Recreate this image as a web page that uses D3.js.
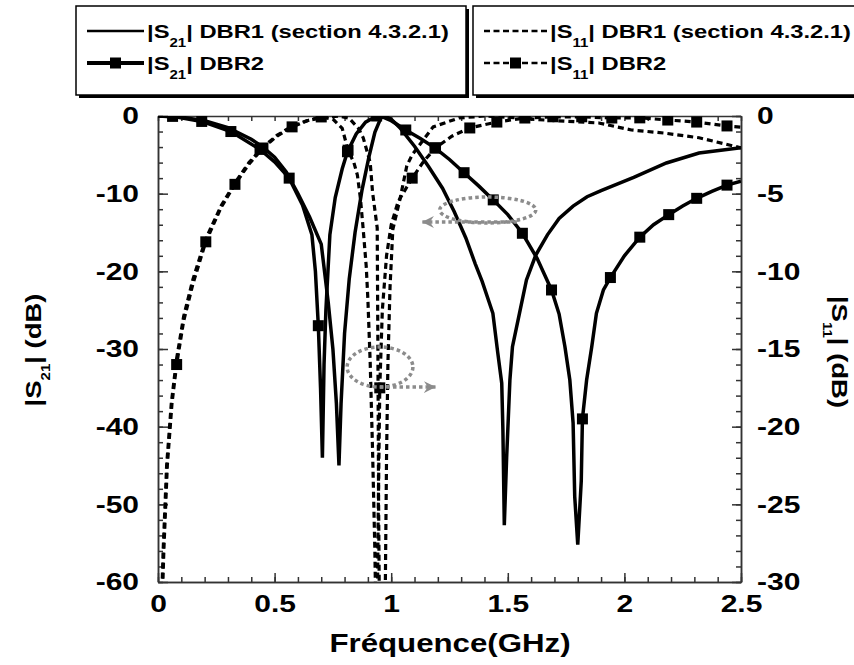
<!DOCTYPE html>
<html>
<head>
<meta charset="utf-8">
<script src="https://cdn.jsdelivr.net/npm/d3@7"></script>
<style>
  body { margin: 0; background: #fff; }
  svg text { font-family: "Liberation Sans", Arial, sans-serif; font-weight: bold; }
</style>
</head>
<body>
<div id="chart"></div>
<script>
// |S21| DBR1 (GHz, dB, left axis)
const s21Dbr1 = [
  [0, 0], [0.1, -0.15], [0.2, -0.6], [0.3, -1.5], [0.4, -3.0], [0.45, -4.0], [0.5, -5.3],
  [0.55, -7.2], [0.6, -10.0], [0.65, -13.0], [0.7, -16.5], [0.73, -24], [0.75, -30],
  [0.765, -37], [0.776, -45], [0.785, -37], [0.8, -28], [0.82, -21], [0.845, -15],
  [0.875, -9.5], [0.905, -5.2], [0.93, -2.1], [0.955, -0.3], [0.97, 0], [1.0, -0.4],
  [1.037, -1.5], [1.1, -3.9], [1.16, -6.5], [1.22, -9.3], [1.27, -12.3], [1.32, -15.7],
  [1.36, -19], [1.39, -21.3], [1.436, -25.4], [1.457, -30.5], [1.474, -34.4], [1.479, -40.4],
  [1.485, -52.7], [1.495, -44], [1.509, -34], [1.52, -29.7], [1.55, -25.4], [1.58, -21.1],
  [1.62, -17.9], [1.67, -15.3], [1.72, -13.2], [1.78, -11.6], [1.84, -10.4], [1.9, -9.6],
  [2.04, -7.9], [2.18, -6.05], [2.32, -4.76], [2.5, -4.1]
];

// |S21| DBR2 (left axis)
const s21Dbr2 = [
  [0, 0], [0.0625, -0.05], [0.1875, -0.7], [0.3125, -2.0], [0.4375, -4.3], [0.5, -5.9],
  [0.5625, -8.0], [0.62, -11.5], [0.66, -15.3], [0.675, -20], [0.6875, -27], [0.697, -35],
  [0.705, -44], [0.712, -32], [0.72, -25], [0.737, -15.3], [0.76, -10.5], [0.79, -6.8],
  [0.8125, -4.6], [0.85, -2.3], [0.89, -0.8], [0.9375, 0], [0.97, -0.2], [1.0, -0.6],
  [1.0625, -1.8], [1.125, -2.9], [1.1875, -4.1], [1.25, -5.6], [1.3125, -7.3], [1.375, -9.0],
  [1.4375, -10.8], [1.5, -12.7], [1.5625, -15.1], [1.625, -18.3], [1.6875, -22.4],
  [1.72, -25.5], [1.745, -29.7], [1.766, -34], [1.78, -39.5], [1.787, -49], [1.8, -55.2],
  [1.815, -47], [1.82, -39], [1.838, -34], [1.86, -29.7], [1.88, -25.4], [1.91, -22.4],
  [1.94, -20.8], [2.0, -18], [2.066, -15.6], [2.125, -14.0], [2.19, -12.7], [2.25, -11.6],
  [2.31, -10.6], [2.375, -9.7], [2.44, -8.9], [2.5, -8.4]
];
const s21Dbr2Markers = [
  [0.0625, -0.05], [0.1875, -0.7], [0.3125, -2.0], [0.4375, -4.3], [0.5625, -8.0],
  [0.6875, -27], [0.8125, -4.6], [0.9375, 0], [1.0625, -1.8], [1.1875, -4.1],
  [1.3125, -7.3], [1.4375, -10.8], [1.5625, -15.1], [1.6875, -22.4], [1.82, -39],
  [1.94, -20.8], [2.066, -15.6], [2.19, -12.7], [2.31, -10.6], [2.44, -8.9]
];

// |S11| DBR1 (right axis)
const s11Dbr1 = [
  [0.012, -33], [0.022, -28], [0.037, -22.5], [0.057, -18.5], [0.08, -15.6], [0.11, -12.9],
  [0.15, -10.5], [0.205, -7.9], [0.27, -5.8], [0.33, -4.3], [0.39, -3.0], [0.45, -2.0],
  [0.51, -1.25], [0.575, -0.65], [0.64, -0.3], [0.7, -0.12], [0.776, 0], [0.82, -0.15],
  [0.86, -0.8], [0.88, -1.4], [0.91, -3.0], [0.92, -4.9], [0.94, -7.2], [0.943, -15],
  [0.946, -25], [0.95, -33], [0.96, -40], [0.975, -30], [0.98, -22], [0.986, -15.9],
  [0.995, -11], [1.007, -7.3], [1.037, -5.4], [1.067, -3.2], [1.09, -2.5], [1.12, -1.9],
  [1.18, -0.7], [1.29, -0.13], [1.4, 0], [1.5, -0.08], [1.6, -0.2], [1.7, -0.3],
  [1.89, -0.45], [2.03, -0.9], [2.17, -1.1], [2.32, -1.4], [2.5, -2.05]
];

// |S11| DBR2 (right axis)
const s11Dbr2 = [
  [0.015, -33], [0.025, -28], [0.04, -22.5], [0.06, -18.5], [0.08, -16], [0.11, -13.2],
  [0.15, -10.8], [0.205, -8.1], [0.27, -5.9], [0.33, -4.4], [0.39, -3.1], [0.45, -2.06],
  [0.51, -1.3], [0.575, -0.7], [0.64, -0.3], [0.7, -0.06], [0.75, -0.2], [0.79, -0.8],
  [0.815, -2.2], [0.84, -3.0], [0.855, -3.8], [0.868, -5.3], [0.88, -7.3], [0.893, -9.7],
  [0.9, -11.8], [0.91, -15.9], [0.92, -21.5], [0.93, -28], [0.938, -36], [0.944, -26],
  [0.951, -17.5], [0.962, -12.5], [0.98, -9], [1.0, -7.0], [1.03, -5.5], [1.09, -4.0],
  [1.14, -2.9], [1.19, -2.06], [1.26, -1.3], [1.337, -0.77], [1.453, -0.39], [1.573, -0.13],
  [1.693, -0.05], [1.817, -0.05], [1.946, -0.13], [2.066, -0.12], [2.186, -0.26],
  [2.31, -0.39], [2.44, -0.64], [2.5, -0.72]
];
const s11Dbr2Markers = [
  [0.08, -16], [0.205, -8.1], [0.33, -4.4], [0.45, -2.06], [0.575, -0.7], [0.7, -0.06],
  [0.815, -2.2], [0.951, -17.5], [1.09, -4.0], [1.19, -2.06], [1.337, -0.77], [1.453, -0.39],
  [1.573, -0.13], [1.693, -0.05], [1.817, -0.05], [1.946, -0.13], [2.066, -0.12],
  [2.186, -0.26], [2.31, -0.39], [2.44, -0.64]
];

// tick labels
const xTickValues = [0, 0.5, 1, 1.5, 2, 2.5];
const xTickLabels = ["0", "0.5", "1", "1.5", "2", "2.5"];
const yLeftTicks = [0, -10, -20, -30, -40, -50, -60];
const yRightTicks = [0, -5, -10, -15, -20, -25, -30];

// legend entries: [name, subscript, rest]
const legendLeft = [["|S", "21", "| DBR1 (section 4.3.2.1)"], ["|S", "21", "| DBR2"]];
const legendRight = [["|S", "11", "| DBR1 (section 4.3.2.1)"], ["|S", "11", "| DBR2"]];

// grey dotted ellipses (centre GHz / dB, half widths) and arrows
const ellipseS21 = { f: 1.414, db: -12.1, rf: 0.206, rdb: 1.67, from: [1.539, -13.65], to: [1.106, -13.65] };
const ellipseS11 = { f: 0.952, db: -16.16, rf: 0.141, rdb: 1.29, from: [0.952, -17.45], to: [1.217, -17.45] };

const width = 854, height = 665;
const SX = 1.25; // wide bold lettering

const x = d3.scaleLinear().domain([0, 2.5]).range([158, 741]);
const yL = d3.scaleLinear().domain([-60, 0]).range([582, 116]);
const yR = d3.scaleLinear().domain([-30, 0]).range([582, 116]);

const svg = d3.select("#chart").append("svg")
  .attr("width", width)
  .attr("height", height);

const defs = svg.append("defs");
defs.append("clipPath").attr("id", "plotClip")
  .append("rect")
  .attr("x", x(0)).attr("y", yL(0))
  .attr("width", x(2.5) - x(0)).attr("height", yL(-60) - yL(0));

defs.append("marker")
  .attr("id", "arrowHead")
  .attr("viewBox", "-12 -7 14 14")
  .attr("refX", 0).attr("refY", 0)
  .attr("markerWidth", 14).attr("markerHeight", 14)
  .attr("markerUnits", "userSpaceOnUse")
  .attr("orient", "auto")
  .append("path")
  .attr("d", "M0,0 L-12,-6 L-8,0 L-12,6 Z")
  .attr("fill", "#8c8c8c");

// helper for text with subscript, drawn wide
function richText(g, tx, ty, rot, parts, size, subSize, subDy, anchor) {
  const t = g.append("text")
    .attr("transform", `translate(${tx},${ty}) rotate(${rot}) scale(${SX},1)`)
    .attr("font-size", size)
    .attr("text-anchor", anchor);
  t.append("tspan").text(parts[0]);
  t.append("tspan").attr("font-size", subSize).attr("dy", subDy).text(parts[1]);
  t.append("tspan").attr("dy", -subDy).text(parts[2]);
  return t;
}

// axes
function styleAxis(g, labelled) {
  g.attr("font-family", null).attr("font-size", null);
  g.selectAll("path, line").attr("stroke", "#333").attr("stroke-width", 1.5);
  if (!labelled) g.selectAll("text").remove();
}

const axisG = svg.append("g");

axisG.append("g").attr("transform", `translate(0,${yL(-60)})`)
  .call(d3.axisBottom(x).tickValues(d3.range(0, 2.51, 0.1)).tickSize(-5).tickSizeOuter(0))
  .call(g => styleAxis(g, false));
axisG.append("g").attr("transform", `translate(0,${yL(-60)})`)
  .call(d3.axisBottom(x).tickValues(xTickValues).tickSize(-9).tickSizeOuter(0).tickPadding(13)
    .tickFormat((d, i) => xTickLabels[i]))
  .call(g => {
    styleAxis(g, true);
    g.selectAll("text").attr("font-size", 24).attr("fill", "#000")
      .attr("transform", `scale(${SX},1)`);
  });

axisG.append("g").attr("transform", `translate(0,${yL(0)})`)
  .call(d3.axisTop(x).tickValues(d3.range(0, 2.51, 0.1)).tickSize(-5).tickSizeOuter(0))
  .call(g => styleAxis(g, false));

axisG.append("g").attr("transform", `translate(${x(0)},0)`)
  .call(d3.axisLeft(yL).tickValues(d3.range(-60, 0.1, 2)).tickSize(-5).tickSizeOuter(0))
  .call(g => styleAxis(g, false));
axisG.append("g").attr("transform", `translate(${x(0)},0)`)
  .call(d3.axisLeft(yL).tickValues(yLeftTicks).tickSize(-10).tickSizeOuter(0).tickPadding(19)
    .tickFormat(d => String(d)))
  .call(g => {
    styleAxis(g, true);
    g.selectAll("text").attr("font-size", 24).attr("fill", "#000")
      .attr("x", -19 / SX).attr("transform", `scale(${SX},1)`);
  });

axisG.append("g").attr("transform", `translate(${x(2.5)},0)`)
  .call(d3.axisRight(yR).tickValues(d3.range(-30, 0.1, 1)).tickSize(-5).tickSizeOuter(0))
  .call(g => styleAxis(g, false));
axisG.append("g").attr("transform", `translate(${x(2.5)},0)`)
  .call(d3.axisRight(yR).tickValues(yRightTicks).tickSize(-9).tickSizeOuter(0).tickPadding(16)
    .tickFormat(d => String(d)))
  .call(g => {
    styleAxis(g, true);
    g.selectAll("text").attr("font-size", 24).attr("fill", "#000")
      .attr("x", 16 / SX).attr("transform", `scale(${SX},1)`);
  });

// curves
const plot = svg.append("g").attr("clip-path", "url(#plotClip)");
const lineL = d3.line().x(d => x(d[0])).y(d => yL(d[1]));
const lineR = d3.line().x(d => x(d[0])).y(d => yR(d[1]));

plot.append("path").datum(s11Dbr1).attr("d", lineR)
  .attr("fill", "none").attr("stroke", "#000").attr("stroke-width", 3.2).attr("stroke-dasharray", "6,4");
plot.append("path").datum(s11Dbr2).attr("d", lineR)
  .attr("fill", "none").attr("stroke", "#000").attr("stroke-width", 3.2).attr("stroke-dasharray", "6,4");
plot.append("path").datum(s21Dbr1).attr("d", lineL)
  .attr("fill", "none").attr("stroke", "#000").attr("stroke-width", 3.5);
plot.append("path").datum(s21Dbr2).attr("d", lineL)
  .attr("fill", "none").attr("stroke", "#000").attr("stroke-width", 3.5);

const ms = 11;
plot.append("g").selectAll("rect").data(s21Dbr2Markers).join("rect")
  .attr("x", d => x(d[0]) - ms / 2).attr("y", d => yL(d[1]) - ms / 2)
  .attr("width", ms).attr("height", ms).attr("fill", "#000");
plot.append("g").selectAll("rect").data(s11Dbr2Markers).join("rect")
  .attr("x", d => x(d[0]) - ms / 2).attr("y", d => yR(d[1]) - ms / 2)
  .attr("width", ms).attr("height", ms).attr("fill", "#000");

// annotations
const ann = svg.append("g").attr("fill", "none").attr("stroke", "#8c8c8c")
  .attr("stroke-width", 3.5).attr("stroke-dasharray", "3.5,3");
ann.append("ellipse")
  .attr("cx", x(ellipseS21.f)).attr("cy", yL(ellipseS21.db))
  .attr("rx", x(ellipseS21.rf) - x(0)).attr("ry", yL(-ellipseS21.rdb) - yL(0));
ann.append("line")
  .attr("x1", x(ellipseS21.from[0])).attr("y1", yL(ellipseS21.from[1]))
  .attr("x2", x(ellipseS21.to[0]) + 6).attr("y2", yL(ellipseS21.to[1]))
  .attr("marker-end", "url(#arrowHead)");
ann.append("ellipse")
  .attr("cx", x(ellipseS11.f)).attr("cy", yR(ellipseS11.db))
  .attr("rx", x(ellipseS11.rf) - x(0)).attr("ry", yR(-ellipseS11.rdb) - yR(0));
ann.append("line")
  .attr("x1", x(ellipseS11.from[0])).attr("y1", yR(ellipseS11.from[1]))
  .attr("x2", x(ellipseS11.to[0]) - 6).attr("y2", yR(ellipseS11.to[1]))
  .attr("marker-end", "url(#arrowHead)");

// axis titles
richText(svg, 41, 350, -90, ["|S", "21", "| (dB)"], 22, 12, 9, "middle");
richText(svg, 832, 352, 90, ["|S", "11", "| (dB)"], 22, 12, 9, "middle");
svg.append("text")
  .attr("transform", `translate(450,652) scale(${SX},1)`)
  .attr("font-size", 25).attr("text-anchor", "middle")
  .text("Fréquence(GHz)");

// legend boxes
function legendBox(bx, by, bw, bh) {
  svg.append("rect").attr("x", bx + 3).attr("y", by + 3).attr("width", bw).attr("height", bh).attr("fill", "#000");
  svg.append("rect").attr("x", bx).attr("y", by).attr("width", bw).attr("height", bh)
    .attr("fill", "#fff").attr("stroke", "#000").attr("stroke-width", 1.5);
}
legendBox(76, 6, 390, 89);
legendBox(473, 6, 400, 89);

const rowY = [31, 63];
const lg = svg.append("g");
// left box samples
lg.append("line").attr("x1", 87).attr("x2", 144).attr("y1", rowY[0]).attr("y2", rowY[0])
  .attr("stroke", "#000").attr("stroke-width", 2.5);
lg.append("line").attr("x1", 87).attr("x2", 144).attr("y1", rowY[1]).attr("y2", rowY[1])
  .attr("stroke", "#000").attr("stroke-width", 4);
lg.append("rect").attr("x", 115.5 - ms / 2).attr("y", rowY[1] - ms / 2).attr("width", ms).attr("height", ms);
// right box samples
lg.append("line").attr("x1", 484).attr("x2", 547).attr("y1", rowY[0]).attr("y2", rowY[0])
  .attr("stroke", "#000").attr("stroke-width", 2.5).attr("stroke-dasharray", "6,3.5");
lg.append("line").attr("x1", 484).attr("x2", 547).attr("y1", rowY[1]).attr("y2", rowY[1])
  .attr("stroke", "#000").attr("stroke-width", 2.5).attr("stroke-dasharray", "6,3.5");
lg.append("rect").attr("x", 515.5 - ms / 2).attr("y", rowY[1] - ms / 2).attr("width", ms).attr("height", ms);

legendLeft.forEach((p, i) => richText(lg, 147, rowY[i] + 7, 0, p, 19, 12, 9, "start"));
legendRight.forEach((p, i) => richText(lg, 550, rowY[i] + 7, 0, p, 19, 12, 9, "start"));
</script>
</body>
</html>
